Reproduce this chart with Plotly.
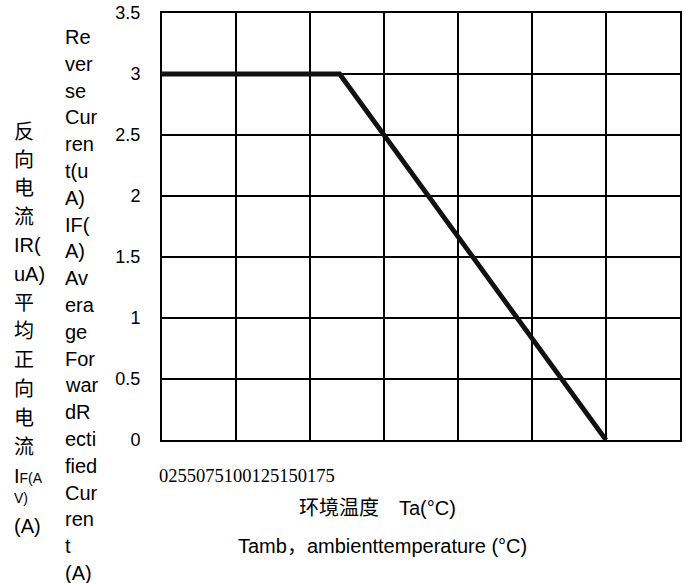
import plotly.graph_objects as go

# ---- data ----
temp = [0, 60, 150]
current = [3, 3, 0]
x_ticks = [0, 25, 50, 75, 100, 125, 150, 175]
x_tick_labels = ["0", "25", "50", "75", "100", "125", "150", "175"]
y_ticks = [0, 0.5, 1, 1.5, 2, 2.5, 3, 3.5]
y_tick_labels = ["0", "0.5", "1", "1.5", "2", "2.5", "3", "3.5"]
x_title_cn = "环境温度\u3000Ta(°C)"
x_title_en = "Tamb\uff0cambienttemperature (°C)"
y_title_cn_lines = ["反", "向", "电", "流", "IR(", "uA)", "平", "均", "正", "向", "电", "流",
                    "I<span style='font-size:14px'>F(A</span>", "<span style='font-size:14px'>V)</span>", "(A)"]
y_title_en_lines = ["Re", "ver", "se", "Cur", "ren", "t(u", "A)", "IF(", "A)", "Av", "era", "ge",
                    "For", "war", "dR", "ecti", "fied", "Cur", "ren", "t", "(A)"]

# ---- layout geometry (screen pixels; page body margin removed below) ----
W, H = 686, 583
PL, PR, PT, PB = 162, 680, 13, 440   # plot box in screen pixels
SANS = "Liberation Sans, Arial, Noto Sans CJK SC"


def px(x):
    return (x - PL) / (PR - PL)


def py(y):
    return (PB - y) / (PB - PT)


fig = go.Figure()
fig.add_trace(go.Scatter(x=temp, y=current, mode="lines",
                         line=dict(color="#111111", width=4.8), showlegend=False,
                         hoverinfo="skip"))

ann = []
ann.append(dict(text="".join(x_tick_labels), x=px(157), y=py(476), xref="paper", yref="paper",
                xanchor="left", yanchor="middle", showarrow=False,
                font=dict(family="Liberation Serif, Times New Roman, serif", size=18.5, color="black")))
ann.append(dict(text=x_title_cn, x=px(377), y=py(508), xref="paper", yref="paper",
                xanchor="center", yanchor="middle", showarrow=False,
                font=dict(family=SANS, size=20, color="black")))
ann.append(dict(text=x_title_en, x=px(382), y=py(546), xref="paper", yref="paper",
                xanchor="center", yanchor="middle", showarrow=False,
                font=dict(family=SANS, size=20, color="black")))

cn_y = [132, 160, 188, 217, 245, 274, 303, 331, 360, 389, 418, 447, 476, 498, 526]
for t, yy in zip(y_title_cn_lines, cn_y):
    ann.append(dict(text=t, x=px(12), y=py(yy), xref="paper", yref="paper",
                    xanchor="left", yanchor="middle", showarrow=False,
                    font=dict(family=SANS, size=20, color="black")))
for i, t in enumerate(y_title_en_lines):
    ann.append(dict(text=t, x=px(63), y=py(37 + i * 26.8), xref="paper", yref="paper",
                    xanchor="left", yanchor="middle", showarrow=False,
                    font=dict(family=SANS, size=20, color="black")))

fig.update_layout(
    width=W, height=H,
    margin=dict(l=PL, r=W - PR, t=PT, b=H - PB),
    paper_bgcolor="white", plot_bgcolor="white",
    annotations=ann,
    hovermode=False,
    xaxis=dict(range=[0, 175], tickvals=x_ticks, ticktext=x_tick_labels, showticklabels=False,
               showgrid=True, gridcolor="black", gridwidth=2,
               showline=True, linecolor="black", linewidth=2, mirror=True,
               zeroline=False, ticks=""),
    yaxis=dict(range=[0, 3.5], tickvals=y_ticks, ticktext=y_tick_labels,
               showgrid=True, gridcolor="black", gridwidth=2,
               showline=True, linecolor="black", linewidth=2, mirror=True,
               zeroline=False, ticks="", ticklabelstandoff=16, ticklabeloverflow="allow",
               automargin=False,
               tickfont=dict(family=SANS, size=18, color="black")),
)

fig.write_html("out.html", config={"displayModeBar": False},
               post_script="document.body.style.margin='0';document.body.style.overflow='hidden';")
